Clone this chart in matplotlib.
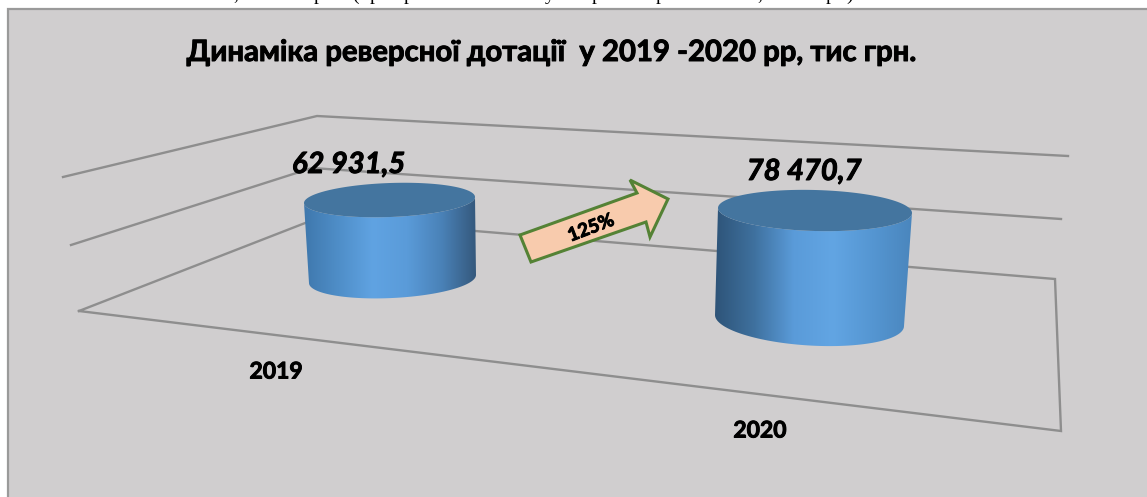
import numpy as np
import matplotlib
matplotlib.use("Agg")
import matplotlib.pyplot as plt
import matplotlib.patheffects as pe
from matplotlib.colors import LinearSegmentedColormap
from matplotlib.patches import Polygon, Rectangle

plt.rcParams['font.family'] = ['Lato', 'Open Sans', 'DejaVu Sans']

title = "Динаміка реверсної дотації  у 2019 -2020 рр, тис грн."
years = ["2019", "2020"]
values = [62931.5, 78470.7]
growth_label = "125%"

# геометрия псевдо-3D в пикселях картинки
px_per_value = 0.001255
depth_scale = [1.0, 1.117]
base_xy = [(392.5, 279), (809.5, 320.5)]
top_x = [389.5, 815]
base_shape = [(83.5, 19, -4), (94.5, 25, 5.5)]
top_shape = [(85.5, 17, -3), (97, 20.5, 2.5)]
side_colors = [
    ["#3f78ad", "#4f8ec8", "#60a3e2", "#5a9bd9", "#4a82b8", "#35597d"],
    ["#2e5478", "#3f719f", "#5a9bd9", "#62a5e3", "#5596d2", "#4a86bd"],
]
value_xy = [(348.5, 165), (804, 172)]
year_xy = [(276, 372), (760, 431)]

grid_lines = [
    [(63, 177), (317, 116), (1068, 156)],
    [(71, 245), (312, 168), (1061, 219)],
    [(79, 311), (318, 218), (1055, 279), (1061, 431), (79, 311)],
]
arrow_shape = [(520, 235), (637, 193), (630, 180), (668, 199), (650, 237), (646, 222), (531, 262)]
# хвостики букв предыдущей строки, обрезанной сверху
cut_letters = [(236, ","), (318, "р"), (355, "("), (375, "р"), (408, "р"), (550, "у"),
               (597, "р"), (660, "р"), (760, ","), (830, "р"), (850, ")")]

# Lato bold тоньше чем в оригинале, поэтому чуть обводим
thick = [pe.withStroke(linewidth=0.7, foreground="black")]


def ellipse(cx, cy, shape, t):
    a, b, tilt = shape
    return cx + a * np.cos(t), cy + b * np.sin(t) + tilt * np.cos(t)


fig = plt.figure(figsize=(11.47, 4.97), dpi=100)
ax = fig.add_axes([0, 0, 1, 1])
ax.axis("off")

ax.add_patch(Rectangle((7.5, 8.5), 1160, 500, facecolor="#d0cecf", edgecolor="#9a9a9a", lw=1.6, zorder=1))

for x, ch in cut_letters:
    ax.text(x, -0.5, ch, family="Liberation Serif", fontsize=14, color="black", ha="center", va="baseline", zorder=2, clip_on=True)

for line in grid_lines:
    pts = np.array(line)
    ax.plot(pts[:, 0], pts[:, 1], color="#8e8e8e", lw=1.7, solid_joinstyle="miter", zorder=2)

for i, value in enumerate(values):
    bx, by = base_xy[i]
    tx = top_x[i]
    ty = by - value * px_per_value * depth_scale[i]

    lower = np.linspace(np.pi, 0, 80)
    bot_x, bot_y = ellipse(bx, by, base_shape[i], lower)
    up_x, up_y = ellipse(tx, ty, top_shape[i], np.linspace(0, np.pi, 80))
    side = Polygon(np.column_stack([np.r_[bot_x, up_x], np.r_[bot_y, up_y]]), closed=True,
                   facecolor="none", edgecolor="none", zorder=3)
    ax.add_patch(side)

    cmap = LinearSegmentedColormap.from_list("side%d" % i, side_colors[i])
    x0 = min(bot_x.min(), up_x.min())
    x1 = max(bot_x.max(), up_x.max())
    img = ax.imshow(np.linspace(0, 1, 256).reshape(1, -1), cmap=cmap, aspect="auto",
                    extent=(x0, x1, by + 40, ty - 40), zorder=3, interpolation="bilinear")
    img.set_clip_path(side)

    top_px, top_py = ellipse(tx, ty, top_shape[i], np.linspace(0, 2 * np.pi, 160))
    ax.fill(top_px, top_py, color="#44759f", lw=0, zorder=4)

    whole, frac = ("%.1f" % value).split(".")
    label = "%s %s,%s" % (whole[:-3], whole[-3:], frac)
    ax.text(*value_xy[i], label, fontsize=21, fontweight="bold", fontstyle="italic", color="black",
            ha="center", va="center", zorder=6, path_effects=thick)
    ax.text(*year_xy[i], years[i], fontsize=16.5, fontweight="bold", color="black", ha="center", va="center",
            zorder=6, path_effects=thick)

ax.add_patch(Polygon(arrow_shape, closed=True, facecolor="#f8cbad", edgecolor="#548235", lw=2.2, zorder=5))
ax.text(591, 228, growth_label, fontsize=13.5, fontweight="bold", color="black", rotation=21,
        rotation_mode="anchor", ha="center", va="center", zorder=6, path_effects=thick)

ax.text(551, 53, title, fontsize=21.1, fontweight="bold", color="black", ha="center", va="center", zorder=6,
        path_effects=thick)

ax.set_xlim(0, 1147)
ax.set_ylim(497, 0)
fig.savefig("out.png", dpi=100, facecolor="white")
